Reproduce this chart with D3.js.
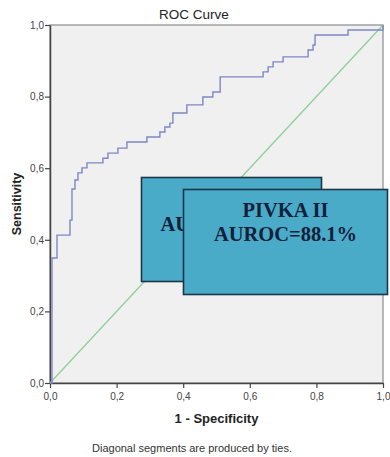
<!DOCTYPE html>
<html>
<head>
<meta charset="utf-8">
<script src="https://cdn.jsdelivr.net/npm/d3@7"></script>
<style>
  body { margin: 0; background: #fff; }
  svg { display: block; }
</style>
</head>
<body>
<svg id="chart" width="390" height="457"></svg>
<script>
// ROC curve vertices (1 - specificity, sensitivity), drawn as a staircase
const fpr = [0, 0.006, 0.021, 0.060, 0.066, 0.075, 0.084, 0.096, 0.111, 0.159, 0.174, 0.204, 0.231, 0.291, 0.330, 0.345, 0.360, 0.369, 0.411, 0.459, 0.489, 0.511, 0.640, 0.655, 0.670, 0.700, 0.775, 0.790, 0.796, 0.895, 1.0];
const tpr = [0, 0.349, 0.413, 0.455, 0.542, 0.567, 0.587, 0.601, 0.615, 0.628, 0.642, 0.656, 0.673, 0.687, 0.701, 0.715, 0.726, 0.754, 0.777, 0.799, 0.813, 0.855, 0.869, 0.883, 0.897, 0.911, 0.930, 0.944, 0.972, 0.986, 1.0];
const diagonal = [[0, 0], [1, 1]];
const tickValues = [0, 0.2, 0.4, 0.6, 0.8, 1.0];
const titleText = "ROC Curve";
const xLabel = "1 - Specificity";
const yLabel = "Sensitivity";
const footnote = "Diagonal segments are produced by ties.";
const boxLines = ["PIVKA II", "AUROC=88.1%"];
const backBoxText = "AU";

const svg = d3.select("#chart");
const m = { left: 50, right: 383, top: 25, bottom: 383 };
const x = d3.scaleLinear().domain([0, 1]).range([m.left, m.right]);
const y = d3.scaleLinear().domain([0, 1]).range([m.bottom, m.top]);

// plot background
svg.append("rect")
  .attr("x", m.left).attr("y", m.top)
  .attr("width", m.right - m.left).attr("height", m.bottom - m.top)
  .attr("fill", "#f0f0f0").attr("stroke", "#8a8a8a").attr("stroke-width", 1.2);

const fmt = d => d3.format(".1f")(d).replace(".", ",");

const gx = svg.append("g").attr("transform", `translate(0,${m.bottom})`)
  .call(d3.axisBottom(x).tickValues(tickValues).tickFormat(fmt).tickSize(5).tickSizeOuter(0));
const gy = svg.append("g").attr("transform", `translate(${m.left},0)`)
  .call(d3.axisLeft(y).tickValues(tickValues).tickFormat(fmt).tickSize(5).tickSizeOuter(0));
[gx, gy].forEach(g => {
  g.select(".domain").attr("stroke", "#444").attr("stroke-width", 1.5);
  g.selectAll(".tick line").attr("stroke", "#444").attr("stroke-width", 1.2);
  g.selectAll(".tick text").attr("fill", "#444").attr("font-family", "Liberation Sans, Arial, sans-serif").attr("font-size", 10);
});
gx.selectAll(".tick text").attr("dy", "0.85em");
gy.selectAll(".tick text").attr("x", -6);

// diagonal reference line
svg.append("path")
  .datum(diagonal)
  .attr("d", d3.line().x(d => x(d[0])).y(d => y(d[1])))
  .attr("fill", "none").attr("stroke", "#8fcf9a").attr("stroke-width", 1.3);

// ROC curve
const pts = fpr.map((f, i) => [f, tpr[i]]);
svg.append("path")
  .datum(pts)
  .attr("d", d3.line().x(d => x(d[0])).y(d => y(d[1])).curve(d3.curveStepAfter))
  .attr("fill", "none").attr("stroke", "#7f86c4").attr("stroke-width", 1.4);

// Title & labels
svg.append("text").attr("x", 194).attr("y", 19).attr("text-anchor", "middle")
  .attr("font-family", "Liberation Sans, Arial, sans-serif").attr("font-size", 13.5).attr("fill", "#222")
  .text(titleText);
svg.append("text").attr("x", (m.left + m.right) / 2).attr("y", 423).attr("text-anchor", "middle")
  .attr("font-family", "Liberation Sans, Arial, sans-serif").attr("font-size", 13).attr("font-weight", "bold").attr("fill", "#222")
  .text(xLabel);
svg.append("text").attr("transform", `translate(21,${(m.top + m.bottom) / 2}) rotate(-90)`).attr("text-anchor", "middle")
  .attr("font-family", "Liberation Sans, Arial, sans-serif").attr("font-size", 12.5).attr("font-weight", "bold").attr("fill", "#222")
  .text(yLabel);
svg.append("text").attr("x", 192).attr("y", 452).attr("text-anchor", "middle")
  .attr("font-family", "Liberation Sans, Arial, sans-serif").attr("font-size", 11).attr("fill", "#333")
  .text(footnote);

// Annotation boxes
const boxFill = "#4aabc8", boxStroke = "#1d3547";
svg.append("rect").attr("x", 141.5).attr("y", 177.5).attr("width", 180).attr("height", 104)
  .attr("fill", boxFill).attr("stroke", boxStroke).attr("stroke-width", 1.6);
svg.append("text").attr("x", 160.5).attr("y", 231).attr("text-anchor", "start")
  .attr("font-family", "Liberation Serif, Times New Roman, serif").attr("font-size", 20.5).attr("font-weight", "bold").attr("fill", "#13203a")
  .text(backBoxText);
svg.append("rect").attr("x", 183.5).attr("y", 189.5).attr("width", 204).attr("height", 105)
  .attr("fill", boxFill).attr("stroke", boxStroke).attr("stroke-width", 1.6);
const tb = svg.append("text").attr("text-anchor", "middle")
  .attr("font-family", "Liberation Serif, Times New Roman, serif").attr("font-size", 20.5).attr("font-weight", "bold").attr("fill", "#13203a");
tb.selectAll("tspan").data(boxLines).join("tspan")
  .attr("x", 285.5).attr("y", (d, i) => 217 + i * 24).text(d => d);
</script>
</body>
</html>
